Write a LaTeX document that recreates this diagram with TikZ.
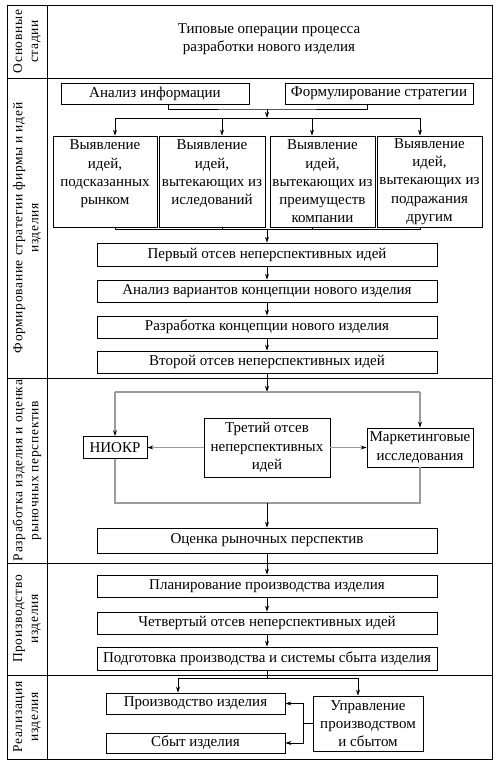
\documentclass[tikz,border=0pt]{standalone}
\usepackage{fontspec}
\setmainfont{Liberation Serif}
\usetikzlibrary{arrows.meta}
\definecolor{lgray}{HTML}{9C9C9C}
\tikzset{
  box/.style={draw, line width=0.8pt, inner sep=0.5pt, align=center, font=\fontsize{15}{18.3}\selectfont},
  stage/.style={rotate=90, align=center, inner sep=0pt, font=\fontsize{13.5}{16}\selectfont\addfontfeatures{LetterSpace=5}},
  ln/.style={line width=0.8pt},
  arr/.style={line width=0.8pt, -{Stealth[length=6pt,width=4pt]}},
  gln/.style={line width=1.1pt, lgray},
  garr/.style={line width=1.1pt, lgray, -{Stealth[length=6pt,width=4pt,color=black]}}
}
\begin{document}
\begin{tikzpicture}[x=1pt,y=-1pt]
\useasboundingbox (0,0) rectangle (502,765);
% frame
\draw[ln] (7,5) rectangle (492,759);
\draw[ln] (47,5) -- (47,759);
\foreach \yy in {78,378,563,675} \draw[ln] (7,\yy) -- (492,\yy);
% stage labels
\node[stage] (s1) at (27,41.5) {Основные\\стадии};
\node[stage] (s2) at (27,228) {Формирование стратегии фирмы и идей\\изделия};
\node[stage] (s3) at (27,470.5) {Разработка изделия и оценка\\рыночных перспектив};
\node[stage] (s4) at (27,619) {Производство\\изделия};
\node[stage] (s5) at (27,717) {Реализация\\изделия};
% header
\node[align=center, font=\fontsize{15}{18.3}\selectfont] (hd) at (269,39.5) {Типовые операции процесса\\разработки нового изделия};
% section 2
\node[box, minimum width=188pt, minimum height=21pt] (ana) at (155,93.5) {Анализ информации};
\node[box, minimum width=188pt, minimum height=21pt] (form) at (379,93.5) {Формулирование стратегии};
\node[box, minimum width=104pt, minimum height=91pt] (b1) at (105,181.5) {Выявление\\идей,\\подсказанных\\рынком\\\mbox{}};
\node[box, minimum width=106pt, minimum height=91pt] (b2) at (212,181.5) {Выявление\\идей,\\вытекающих из\\иследований\\\mbox{}};
\node[box, minimum width=105pt, minimum height=91pt] (b3) at (322.5,181.5) {Выявление\\идей,\\вытекающих из\\преимуществ\\компании};
\node[box, minimum width=105pt, minimum height=91pt] (b4) at (429.5,181.5) {Выявление\\идей,\\вытекающих из\\подражания\\другим};
\node[box, minimum width=340pt, minimum height=23pt] (p1) at (267,254.5) {Первый отсев неперспективных идей};
\node[box, minimum width=340pt, minimum height=22pt] (p2) at (267,291) {Анализ вариантов концепции нового изделия};
\node[box, minimum width=340pt, minimum height=22pt] (p3) at (267,327) {Разработка концепции нового изделия};
\node[box, minimum width=340pt, minimum height=22pt] (p4) at (267,362) {Второй отсев неперспективных идей};
% section 3
\node[box, minimum width=126pt, minimum height=59pt] (third) at (267,447.5) {Третий отсев\\неперспективных\\идей};
\node[box, minimum width=64pt, minimum height=22pt] (niokr) at (115,447.5) {НИОКР};
\node[box, minimum width=106pt, minimum height=39pt] (mkt) at (420,447.5) {Маркетинговые\\исследования};
\node[box, minimum width=340pt, minimum height=25pt] (ocen) at (267,540.5) {Оценка рыночных перспектив};
% section 4
\node[box, minimum width=340pt, minimum height=22pt] (plan) at (267,586) {Планирование производства изделия};
\node[box, minimum width=340pt, minimum height=22pt] (fourth) at (267,623) {Четвертый отсев неперспективных идей};
\node[box, minimum width=340pt, minimum height=23pt] (prep) at (267,658.5) {Подготовка производства и системы сбыта изделия};
% section 5
\node[box, minimum width=179pt, minimum height=21pt] (prod) at (195.5,703.5) {Производство изделия};
\node[box, minimum width=179pt, minimum height=20pt] (sbyt) at (195.5,743) {Сбыт изделия};
\node[box, minimum width=110pt, minimum height=55pt] (upr) at (368,723.5) {Управление\\производством\\и сбытом};
% coordinates
\coordinate (j1) at (267,109);
\coordinate (j2) at (267,118);
\coordinate (d1) at (115,118);
\coordinate (d2) at (222,118);
\coordinate (d3) at (312,118);
\coordinate (d4) at (420,118);
\coordinate (k1) at (115,229);
\coordinate (k2) at (222,229);
\coordinate (k3) at (312,229);
\coordinate (k4) at (420,229);
\coordinate (k0) at (267,229);
\coordinate (g1) at (267,392);
\coordinate (gL) at (115,392);
\coordinate (gR) at (420,392);
\coordinate (g2) at (267,503);
\coordinate (r0) at (267,678);
\coordinate (r1) at (178,678);
\coordinate (r2) at (358,678);
\coordinate (u1) at (303,723.5);
% connectors section 2
\draw[ln] ([xshift=13pt]ana.south) |- (j1) -| ([xshift=-12pt]form.south);
\draw[arr] (j1) -- (j2);
\draw[ln] (d1) -- (d4);
\draw[arr] (d1) -- (d1 |- b1.north);
\draw[arr] (d2) -- (d2 |- b2.north);
\draw[arr] (d3) -- (d3 |- b3.north);
\draw[arr] (d4) -- (d4 |- b4.north);
\draw[ln] (k1 |- b1.south) -- (k1) -- (k4) -- (k4 |- b4.south);
\draw[ln] (k2 |- b2.south) -- (k2);
\draw[ln] (k3 |- b3.south) -- (k3);
\draw[arr] (k0) -- (p1.north);
\draw[arr] (p1.south) -- (p2.north);
\draw[arr] (p2.south) -- (p3.north);
\draw[arr] (p3.south) -- (p4.north);
% section 3
\draw[arr] (p4.south) -- (g1);
\draw[gln] (gL) -- (gR);
\draw[garr] (gL) -- (niokr.north);
\draw[garr] (gR) -- (mkt.north);
\draw[garr] (third.west) -- (niokr.east);
\draw[garr] (third.east) -- (mkt.west);
\draw[gln] (niokr.south) |- (g2) -| (mkt.south);
\draw[arr] (g2) -- (ocen.north);
% section 4
\draw[arr] (ocen.south) -- (plan.north);
\draw[arr] (plan.south) -- (fourth.north);
\draw[arr] (fourth.south) -- (prep.north);
% section 5
\draw[ln] (prep.south) -- (r0);
\draw[ln] (r1) -- (r2);
\draw[arr] (r1) -- (r1 |- prod.north);
\draw[arr] (r2) -- (r2 |- upr.north);
\draw[ln] (upr.west) -- (u1);
\draw[arr] (u1) |- (prod.east);
\draw[arr] (u1) |- (sbyt.east);
\end{tikzpicture}
\end{document}
